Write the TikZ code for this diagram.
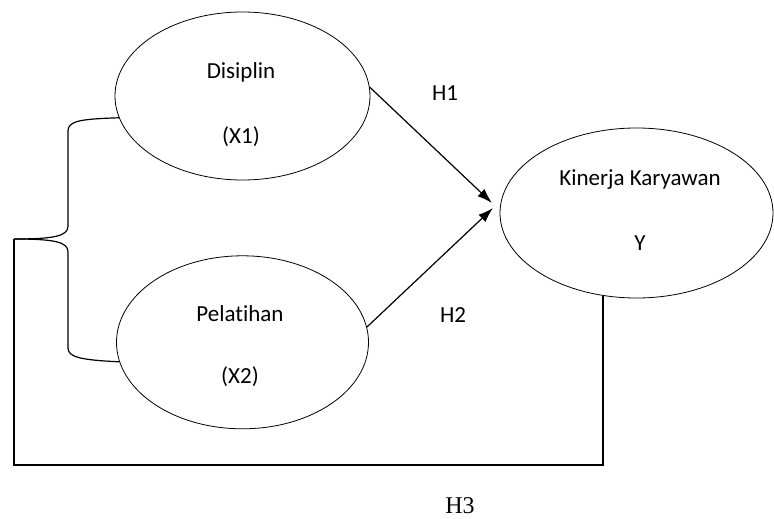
\documentclass[tikz,border=0pt]{standalone}
\usepackage{fontspec}
\setmainfont[Ligatures=NoCommon]{Carlito}
\newfontfamily\hthree{Liberation Serif}
\usetikzlibrary{positioning, shapes.geometric, arrows.meta}
\tikzset{
	latent/.style = {ellipse, draw=black, line width=0.8pt, inner sep=0},
	txt/.style = {inner sep=0, font=\fontsize{23}{28}\selectfont},
	link/.style = {draw=black, line width=1.2pt},
	effect/.style = {link, -{Latex[length=15pt, width=10pt]}}
}
\begin{document}
\begin{tikzpicture}[x=1pt, y=-1pt]
	\useasboundingbox (0,0) rectangle (774,519);
	
	\node [latent, minimum width=255pt, minimum height=168pt] (x1) at (242.5,96) {};
	\node [latent, minimum width=252pt, minimum height=173pt] [below=75pt of x1] (x2) {};
	\node [latent, minimum width=273pt, minimum height=170pt] (y) at (636.5,213) {};
	
	\node [txt] (x1name) at (241,72) {Disiplin};
	\node [txt] (x1code) [below=44pt of x1name] {(X1)};
	\node [txt] (x2name) at (240,314) {Pelatihan};
	\node [txt] (x2code) [below=44pt of x2name] {(X2)};
	\node [txt] (yname) at (640,180) {Kinerja Karyawan};
	\node [txt] (ycode) at (640,243) {Y};
	
	\node [txt] (h1) at (445,93) {H1};
	\node [txt] (h2) at (453,315) {H2};
	\node [inner sep=0, font=\hthree\fontsize{24}{28}\selectfont] (h3) at (460,506) {H3};
	
	\coordinate (t1) at (492,203);
	\coordinate (t2) at (493,208);
	\draw [effect] (x1.4) -- (t1);
	\draw [effect] (x2.7) -- (t2);
	
	% brace joining X1 and X2
	\coordinate (jn) at (14,239);
	\coordinate (base) at (14,465);
	\draw [link] (x1.190) .. controls (80,119) and (68,121) .. (68,131) -- (68,226)
		.. controls (68,236) and (55,239) .. (jn);
	\draw [link] (jn) .. controls (55,239) and (68,242) .. (68,252) -- (68,348)
		.. controls (68,357) and (80,360) .. (x2.189);
	\draw [link] (jn) -- (base) -| (y.248);
\end{tikzpicture}
\end{document}
